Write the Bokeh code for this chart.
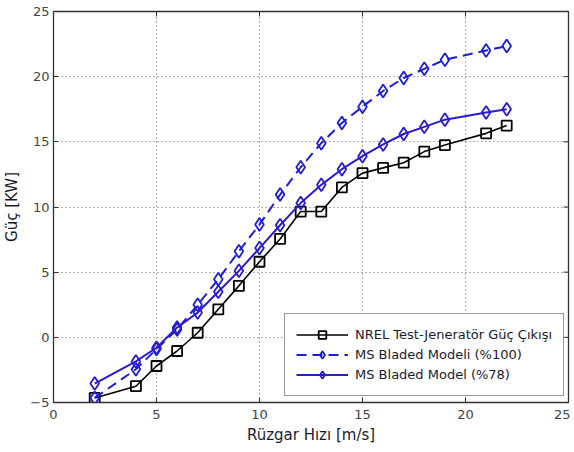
import math
from bokeh.plotting import figure
from bokeh.models import Legend, LegendItem, FixedTicker, Range1d
from bokeh.embed import file_html
from bokeh.resources import INLINE

# ---- data ----
wind_speed = [2, 4, 5, 6, 7, 8, 9, 10, 11, 12, 13, 14, 15, 16, 17, 18, 19, 21, 22]
nrel_power = [-4.65, -3.75, -2.2, -1.05, 0.35, 2.15, 3.95, 5.8, 7.55, 9.65, 9.65,
              11.5, 12.6, 13.0, 13.4, 14.25, 14.75, 15.65, 16.25]
bladed_100 = [-4.65, -2.45, -0.9, 0.6, 2.5, 4.45, 6.6, 8.65, 10.95, 13.05, 14.9,
              16.45, 17.7, 18.9, 19.9, 20.6, 21.3, 22.0, 22.35]
bladed_78 = [-3.55, -1.85, -0.8, 0.75, 1.9, 3.5, 5.1, 6.85, 8.6, 10.3, 11.7,
             12.9, 13.9, 14.8, 15.6, 16.15, 16.7, 17.25, 17.5]
x_ticks = [0, 5, 10, 15, 20, 25]
y_ticks = [-5, 0, 5, 10, 15, 20, 25]
labels = ["NREL Test-Jeneratör Güç Çıkışı", "MS Bladed Modeli (%100)", "MS Bladed Model (%78)"]

FONT = "DejaVu Sans"
TXT = "#1a1a2e"
AX = "#333333"

p = figure(frame_width=515, frame_height=391, output_backend="svg", toolbar_location=None,
           x_range=Range1d(x_ticks[0], x_ticks[-1]), y_range=Range1d(y_ticks[0], y_ticks[-1]),
           min_border_left=45, min_border_right=2, min_border_top=11, min_border_bottom=34)
p.background_fill_color = "white"
p.border_fill_color = "white"
p.outline_line_color = AX
p.outline_line_width = 1.3

for ax in (p.xaxis[0], p.yaxis[0]):
    ax.major_tick_in = 5
    ax.major_tick_out = 0
    ax.minor_tick_line_color = None
    ax.axis_line_color = AX
    ax.major_tick_line_color = AX
    ax.major_label_text_font = FONT
    ax.major_label_text_font_size = "13px"
    ax.major_label_text_color = "#444444"
    ax.axis_label_text_font = FONT
    ax.axis_label_text_font_size = "15px"
    ax.axis_label_text_font_style = "normal"
    ax.axis_label_text_color = TXT

p.xaxis[0].ticker = FixedTicker(ticks=x_ticks)
p.yaxis[0].ticker = FixedTicker(ticks=y_ticks)
p.xaxis[0].axis_label = "Rüzgar Hızı [m/s]"
p.yaxis[0].axis_label = "Güç [KW]"
p.xaxis[0].major_label_standoff = 7
p.xaxis[0].axis_label_standoff = 4
p.yaxis[0].major_label_standoff = 4
p.yaxis[0].axis_label_standoff = 6

for g in (p.xgrid[0], p.ygrid[0]):
    g.grid_line_color = "#666666"
    g.grid_line_dash = "1 3"
    g.grid_line_width = 1.2

# mirrored inward ticks on the top and right edges
p.scatter(x_ticks, [y_ticks[-1]] * len(x_ticks), marker="dash", angle=math.pi / 2,
          size=10, line_color=AX, line_width=1)
p.scatter([x_ticks[-1]] * len(y_ticks), y_ticks, marker="dash", angle=0,
          size=10, line_color=AX, line_width=1)

BLUE = "#1e1ed8"
BLUE2 = "#2a1ccc"

l1 = p.line(wind_speed, nrel_power, line_color="black", line_width=1.6)
m1 = p.scatter(wind_speed, nrel_power, marker="square", size=10, line_color="black",
               line_width=1.8, fill_alpha=0)
l2 = p.line(wind_speed, bladed_100, line_color=BLUE, line_width=2, line_dash="10 6")
m2 = p.scatter(wind_speed, bladed_100, marker="diamond", size=13, line_color=BLUE,
               line_width=1.8, fill_alpha=0)
l3 = p.line(wind_speed, bladed_78, line_color=BLUE2, line_width=2)
m3 = p.scatter(wind_speed, bladed_78, marker="diamond", size=13, line_color=BLUE2,
               line_width=1.8, fill_alpha=0)

legend = Legend(items=[LegendItem(label=labels[0], renderers=[l1, m1]),
                       LegendItem(label=labels[1], renderers=[l2, m2]),
                       LegendItem(label=labels[2], renderers=[l3, m3])],
                location=(231, 6))
legend.margin = 0
legend.padding = 11
legend.spacing = 1
legend.glyph_width = 52
legend.glyph_height = 19
legend.label_height = 19
legend.label_standoff = 7
legend.label_text_font = FONT
legend.label_text_font_size = "13px"
legend.label_text_color = TXT
legend.border_line_color = AX
legend.border_line_width = 1.3
legend.background_fill_color = "white"
legend.background_fill_alpha = 1
p.add_layout(legend, "center")

open("out.html", "w").write(file_html(p, INLINE))
